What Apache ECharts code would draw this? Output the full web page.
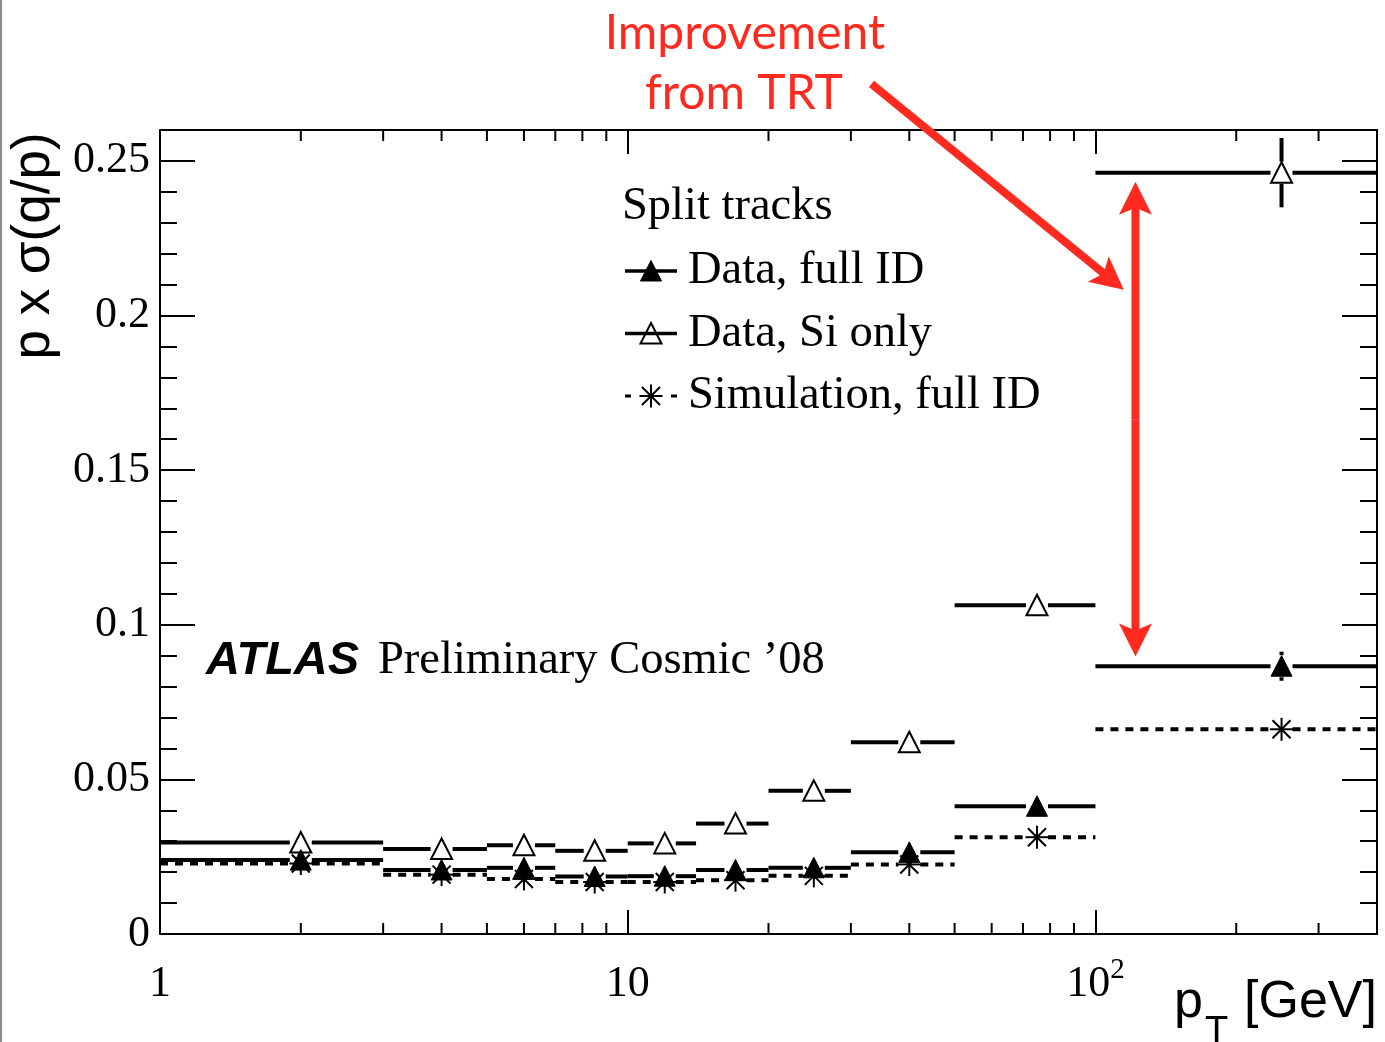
<!DOCTYPE html>
<html><head><meta charset="utf-8">
<script src="https://cdn.jsdelivr.net/npm/echarts@6/dist/echarts.min.js"></script>
<style>html,body{margin:0;padding:0;background:#fff}#c{width:1385px;height:1042px}</style>
</head><body><div id="c"></div>
<script>
// ---- data ----
const binLow    = [1, 3, 5, 7, 10, 14, 20, 30, 50, 100];
const binHigh   = [3, 5, 7, 10, 14, 20, 30, 50, 100, 400];
const binCenter = [2, 4, 6, 8.5, 12, 17, 25, 40, 75, 250];
const siOnly     = [0.0296, 0.0275, 0.0287, 0.0269, 0.0293, 0.0357, 0.0463, 0.0620, 0.1063, 0.2462];
const siOnlyErr  = [0.0008, 0.0008, 0.0009, 0.0009, 0.0010, 0.0014, 0.0018, 0.0024, 0.0030, 0.0112];
const fullID     = [0.0239, 0.0207, 0.0214, 0.0186, 0.0187, 0.0207, 0.0214, 0.0264, 0.0413, 0.0866];
const fullIDErr  = [0.0005, 0.0005, 0.0005, 0.0005, 0.0006, 0.0007, 0.0008, 0.0010, 0.0015, 0.0047];
const simulation = [0.0228, 0.0192, 0.0178, 0.0168, 0.0168, 0.0174, 0.0188, 0.0225, 0.0313, 0.0662];
const xMinorTicks = [2, 3, 4, 5, 6, 7, 8, 9, 20, 30, 40, 50, 60, 70, 80, 90, 200, 300];
const yMajorStep = 0.05, yMinorStep = 0.01, yMin = 0, yMax = 0.26, xMin = 1, xMax = 400;
const legendEntries = [
  {kind: 'full', label: 'Data, full ID'},
  {kind: 'si', label: 'Data, Si only'},
  {kind: 'sim', label: 'Simulation, full ID'}
];
// annotation anchor points in data space
const diagArrow = {from: [33.2, 0.2749], to: [115, 0.2083]};
const vertArrow = {x: 121.8, top: 0.2433, bottom: 0.0897};

const RED = '#ff2a1f';
const SERIF = '"Liberation Serif", "Times New Roman", serif';
const SANS = '"Liberation Sans", Arial, sans-serif';
const SERIF_SIZE = 46.5;

function markerShapes(kind, cx, cy) {
  const h = 10.5;
  if (kind === 'si') {
    return [{type: 'polygon', shape: {points: [[cx, cy - h], [cx - h, cy + h - 0.5], [cx + h, cy + h - 0.5]]},
      style: {fill: '#fff', fillOpacity: 0, stroke: '#000', lineWidth: 2}}];
  }
  if (kind === 'full') {
    return [{type: 'polygon', shape: {points: [[cx, cy - h], [cx - h, cy + h - 0.5], [cx + h, cy + h - 0.5]]},
      style: {fill: '#000', stroke: '#000', lineWidth: 1}}];
  }
  const r = 11.5, d = 9, st = {stroke: '#000', lineWidth: 2};
  return [
    {type: 'line', shape: {x1: cx, y1: cy - r, x2: cx, y2: cy + r}, style: st},
    {type: 'line', shape: {x1: cx - r, y1: cy, x2: cx + r, y2: cy}, style: st},
    {type: 'line', shape: {x1: cx - d, y1: cy - d, x2: cx + d, y2: cy + d}, style: st},
    {type: 'line', shape: {x1: cx - d, y1: cy + d, x2: cx + d, y2: cy - d}, style: st}
  ];
}

function histRender(kind) {
  return function (params, api) {
    const lo = api.value(0), hi = api.value(1), c = api.value(2), v = api.value(3), e = api.value(4);
    const pL = api.coord([lo, v]), pH = api.coord([hi, v]), pC = api.coord([c, v]);
    const gap = 11;
    const ls = kind === 'sim'
      ? {stroke: '#000', lineWidth: 4, lineDash: [8, 7]}
      : {stroke: '#000', lineWidth: 4};
    const children = [
      {type: 'line', shape: {x1: pL[0], y1: pL[1], x2: pC[0] - gap, y2: pC[1]}, style: ls},
      {type: 'line', shape: {x1: pC[0] + gap, y1: pC[1], x2: pH[0], y2: pH[1]}, style: ls}
    ];
    if (e > 0) {
      const top = api.coord([c, v + e])[1], bot = api.coord([c, v - e])[1];
      if (pC[1] - top > gap) children.push({type: 'line', shape: {x1: pC[0], y1: top, x2: pC[0], y2: pC[1] - gap}, style: {stroke: '#000', lineWidth: 4}});
      if (bot - pC[1] > gap) children.push({type: 'line', shape: {x1: pC[0], y1: pC[1] + gap, x2: pC[0], y2: bot}, style: {stroke: '#000', lineWidth: 4}});
    }
    markerShapes(kind, pC[0], pC[1]).forEach(m => children.push(m));
    return {type: 'group', children: children};
  };
}

function histData(vals, errs) {
  return vals.map((v, i) => [binLow[i], binHigh[i], binCenter[i], v, errs ? errs[i] : 0]);
}

const chart = echarts.init(document.getElementById('c'), null, {renderer: 'canvas'});

const tickStyle = {color: '#000', width: 2};
function xAxisCfg(pos, labels) {
  return {
    type: 'log', logBase: 10, min: xMin, max: xMax, position: pos,
    axisLine: {show: true, onZero: false, lineStyle: tickStyle},
    axisTick: {show: true, inside: true, length: 24, lineStyle: tickStyle},
    splitLine: {show: false}, minorTick: {show: false},
    axisLabel: labels ? {
      show: true, margin: 22, showMaxLabel: false,
      formatter: function (v) {
        const r = Math.round(v);
        if (r === 100) return '{b|10}{s|2}';
        return '{b|' + r + '}';
      },
      rich: {
        b: {fontFamily: SERIF, fontSize: 44, color: '#000', lineHeight: 50, verticalAlign: 'bottom'},
        s: {fontFamily: SERIF, fontSize: 29, color: '#000', lineHeight: 30, verticalAlign: 'top'}
      }
    } : {show: false}
  };
}
function yAxisCfg(pos, step, len, labels, line) {
  return {
    type: 'value', min: yMin, max: yMax, interval: step, position: pos,
    axisLine: {show: line, onZero: false, lineStyle: tickStyle},
    axisTick: {show: true, inside: true, length: len, lineStyle: tickStyle},
    splitLine: {show: false},
    axisLabel: labels ? {
      show: true, margin: 10, showMaxLabel: false, color: '#000',
      fontFamily: SERIF, fontSize: 44,
      formatter: v => String(parseFloat(v.toFixed(2)))
    } : {show: false}
  };
}

const option = {
  backgroundColor: '#fff',
  animation: false,
  grid: {left: 160, right: 8, top: 130, bottom: 108, containLabel: false},
  xAxis: [xAxisCfg('bottom', true), xAxisCfg('top', false)],
  yAxis: [
    yAxisCfg('left', yMajorStep, 35, true, true),
    yAxisCfg('right', yMajorStep, 35, false, true),
    yAxisCfg('left', yMinorStep, 17, false, false),
    yAxisCfg('right', yMinorStep, 17, false, false)
  ],
  series: [
    {
      type: 'custom', name: 'minor x ticks', xAxisIndex: 0, yAxisIndex: 0,
      data: xMinorTicks.map(v => [v, 0]),
      encode: {x: 0, y: 1}, silent: true,
      renderItem: function (params, api) {
        const x = api.coord([api.value(0), 0])[0];
        const cs = params.coordSys;
        const st = {stroke: '#000', lineWidth: 2};
        return {type: 'group', children: [
          {type: 'line', shape: {x1: x, y1: cs.y + cs.height, x2: x, y2: cs.y + cs.height - 11}, style: st},
          {type: 'line', shape: {x1: x, y1: cs.y, x2: x, y2: cs.y + 11}, style: st}
        ]};
      }
    },
    {type: 'custom', name: 'Data, Si only', data: histData(siOnly, siOnlyErr), encode: {x: 2, y: 3}, renderItem: histRender('si'), z: 3},
    {type: 'custom', name: 'Data, full ID', data: histData(fullID, fullIDErr), encode: {x: 2, y: 3}, renderItem: histRender('full'), z: 4},
    {type: 'custom', name: 'Simulation, full ID', data: histData(simulation, null), encode: {x: 2, y: 3}, renderItem: histRender('sim'), z: 5}
  ]
};
chart.setOption(option);

// ---- annotations / texts ----
function arrowShapes(from, to, w) {
  const dx = to[0] - from[0], dy = to[1] - from[1], L = Math.hypot(dx, dy);
  const d = [dx / L, dy / L], n = [-d[1], d[0]];
  const headLen = 33, halfW = 16.5, notch = 26;
  const base = [to[0] - d[0] * headLen, to[1] - d[1] * headLen];
  const nt = [to[0] - d[0] * notch, to[1] - d[1] * notch];
  return [
    {type: 'line', z: 100, shape: {x1: from[0], y1: from[1], x2: nt[0] + d[0] * 2, y2: nt[1] + d[1] * 2}, style: {stroke: RED, lineWidth: w}},
    {type: 'polygon', z: 100, shape: {points: [to, [base[0] + n[0] * halfW, base[1] + n[1] * halfW], nt, [base[0] - n[0] * halfW, base[1] - n[1] * halfW]]}, style: {fill: RED}}
  ];
}
const P = v => chart.convertToPixel({xAxisIndex: 0, yAxisIndex: 0}, v);

const g = [];
g.push({type: 'line', shape: {x1: 1, y1: 0, x2: 1, y2: 1042}, style: {stroke: '#8c8c8c', lineWidth: 2}});
// red text
g.push({type: 'text', z: 100, style: {text: 'Improvement', x: 745, y: 34, textAlign: 'center', textVerticalAlign: 'middle', fontFamily: 'Lato', fontSize: 48, fill: RED}});
g.push({type: 'text', z: 100, style: {text: 'from TRT', x: 744, y: 94, textAlign: 'center', textVerticalAlign: 'middle', fontFamily: 'Lato', fontSize: 48, fill: RED}});
// arrows
arrowShapes(P(diagArrow.from), P(diagArrow.to), 8).forEach(s => g.push(s));
const vTop = P([vertArrow.x, vertArrow.top]), vBot = P([vertArrow.x, vertArrow.bottom]);
const vMid = [(vTop[0] + vBot[0]) / 2, (vTop[1] + vBot[1]) / 2];
arrowShapes(vMid, vTop, 8).forEach(s => g.push(s));
arrowShapes(vMid, vBot, 8).forEach(s => g.push(s));
// legend
g.push({type: 'text', style: {text: 'Split tracks', x: 622, y: 207, textVerticalAlign: 'middle', fontFamily: SERIF, fontSize: SERIF_SIZE, fill: '#000'}});
legendEntries.forEach((e, i) => {
  const y = 271 + i * 62.5;
  const ch = [];
  if (e.kind === 'sim') {
    ch.push({type: 'line', shape: {x1: 625, y1: y, x2: 631, y2: y}, style: {stroke: '#000', lineWidth: 3}});
    ch.push({type: 'line', shape: {x1: 671, y1: y, x2: 677, y2: y}, style: {stroke: '#000', lineWidth: 3}});
  } else {
    ch.push({type: 'line', shape: {x1: 625, y1: y, x2: 677, y2: y}, style: {stroke: '#000', lineWidth: 3.5}});
  }
  markerShapes(e.kind, 651, y).forEach(m => ch.push(m));
  ch.push({type: 'text', style: {text: e.label, x: 688, y: y, textVerticalAlign: 'middle', fontFamily: SERIF, fontSize: SERIF_SIZE, fill: '#000'}});
  g.push({type: 'group', children: ch});
});
// ATLAS label
g.push({type: 'text', style: {text: 'ATLAS', x: 206, y: 661, textVerticalAlign: 'middle', fontFamily: SANS, fontWeight: 'bold', fontStyle: 'italic', fontSize: 47, fill: '#000'}});
g.push({type: 'text', style: {text: 'Preliminary Cosmic \u201908', x: 378, y: 661, textVerticalAlign: 'middle', fontFamily: SERIF, fontSize: SERIF_SIZE, fill: '#000'}});
// axis titles
g.push({type: 'text', rotation: Math.PI / 2, x: 34, y: 246, style: {text: 'p x \u03c3(q/p)', x: 0, y: 0, textAlign: 'center', textVerticalAlign: 'middle', fontFamily: SANS, fontSize: 53, fill: '#000'}});
g.push({type: 'text', style: {text: '[GeV]', x: 1377, y: 1003, textAlign: 'right', textVerticalAlign: 'middle', fontFamily: SANS, fontSize: 52, fill: '#000'}});
g.push({type: 'text', style: {text: 'p', x: 1174, y: 1003, textVerticalAlign: 'middle', fontFamily: SANS, fontSize: 52, fill: '#000'}});
g.push({type: 'text', style: {text: 'T', x: 1205, y: 1033, textVerticalAlign: 'middle', fontFamily: SANS, fontSize: 38, fill: '#000'}});

chart.setOption({graphic: g});
</script>
</body></html>
